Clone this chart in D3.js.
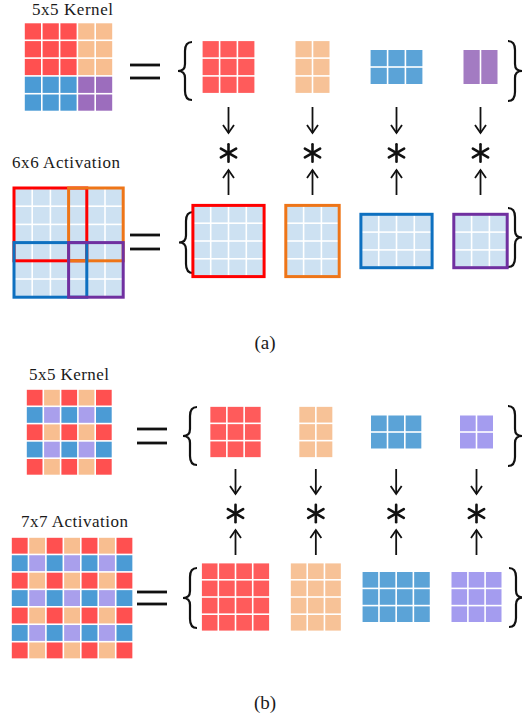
<!DOCTYPE html>
<html>
<head>
<meta charset="utf-8">
<script src="https://cdn.jsdelivr.net/npm/d3@7"></script>
<style>
  body { margin: 0; background: #fff; }
  text { font-family: "Liberation Serif", "Times New Roman", serif; fill: #1a1a1a; }
</style>
</head>
<body>
<div id="chart"></div>
<script>
// colour keys: R red, P peach, B blue, V purple, L lavender
const kernelA = ['RRRPP', 'RRRPP', 'RRRPP', 'BBBVV', 'BBBVV'];
const activationASize = 6;
const pieceKeysA = ['R', 'P', 'B', 'V'];
const kernelShapesA = [[3, 3], [3, 2], [2, 3], [2, 2]];
const kernelRowLinesA = [true, true, true, false];
const windowShapesA = [[4, 4], [4, 3], [3, 4], [3, 3]];
const windowOriginsA = [[0, 0], [0, 3], [3, 0], [3, 3]];

const kernelB = ['RPRPR', 'BLBLB', 'RPRPR', 'BLBLB', 'RPRPR'];
const activationB = ['RPRPRPR', 'BLBLBLB', 'RPRPRPR', 'BLBLBLB', 'RPRPRPR', 'BLBLBLB', 'RPRPRPR'];
const pieceKeysB = ['R', 'P', 'B', 'L'];
const kernelShapesB = [[3, 3], [3, 2], [2, 3], [2, 2]];
const windowShapesB = [[4, 4], [4, 3], [3, 4], [3, 3]];

const titlesA = ['5x5 Kernel', '6x6 Activation'];
const titlesB = ['5x5 Kernel', '7x7 Activation'];
const captions = ['(a)', '(b)'];

const baseColor = { R: '#FF5050', P: '#F8BE90', B: '#4B9BD5', V: '#9C6DBD', L: '#A99FEC' };
const pieceColor = { R: '#FF5B5B', P: '#F7C297', B: '#5BA3D7', V: '#A37BC2', L: '#A49CEF' };
const frameColor = { R: '#FF0000', P: '#EE7518', B: '#0E70C0', V: '#7030A0' };
const cellBlue = '#CDE1F2';
const gap = 1.6;

const svg = d3.select('#chart').append('svg')
  .attr('width', 522)
  .attr('height', 719);

function gridScales(x0, y0, rows, cols, unit) {
  return {
    x: d3.scaleLinear().domain([0, cols]).range([x0, x0 + cols * unit]),
    y: d3.scaleLinear().domain([0, rows]).range([y0, y0 + rows * unit]),
  };
}

function drawPattern(pattern, x0, y0, unit, colors) {
  const rows = pattern.length;
  const cols = pattern[0].length;
  const s = gridScales(x0, y0, rows, cols, unit);
  const cells = [];
  pattern.forEach((row, r) => row.split('').forEach((k, c) => cells.push({ r, c, k })));
  svg.append('g').selectAll('rect')
    .data(cells)
    .enter()
    .append('rect')
    .attr('x', d => s.x(d.c) + gap / 2)
    .attr('y', d => s.y(d.r) + gap / 2)
    .attr('width', unit - gap)
    .attr('height', unit - gap)
    .attr('fill', d => colors[d.k]);
  return s;
}

function drawBlock(cx, cy, rows, cols, unit, fill, rowLines) {
  const s = gridScales(cx - cols * unit / 2, cy - rows * unit / 2, rows, cols, unit);
  const cells = [];
  if (rowLines === false) {
    d3.range(cols).forEach(c => cells.push({ r: 0, c, h: rows }));
  } else {
    d3.range(rows).forEach(r => d3.range(cols).forEach(c => cells.push({ r, c, h: 1 })));
  }
  svg.append('g').selectAll('rect')
    .data(cells)
    .enter()
    .append('rect')
    .attr('x', d => s.x(d.c) + gap / 2)
    .attr('y', d => s.y(d.r) + gap / 2)
    .attr('width', unit - gap)
    .attr('height', d => s.y(d.r + d.h) - s.y(d.r) - gap)
    .attr('fill', fill);
  return s;
}

function drawFrame(s, r0, c0, rows, cols, color) {
  svg.append('rect')
    .attr('x', s.x(c0))
    .attr('y', s.y(r0))
    .attr('width', s.x(c0 + cols) - s.x(c0))
    .attr('height', s.y(r0 + rows) - s.y(r0))
    .attr('fill', 'none')
    .attr('stroke', color)
    .attr('stroke-width', 3);
}

function drawEquals(x0, x1, y0, y1) {
  [y0, y1].forEach((y) => {
    svg.append('line')
      .attr('x1', x0).attr('x2', x1)
      .attr('y1', y).attr('y2', y)
      .attr('stroke', '#111')
      .attr('stroke-width', 2.8);
  });
}

function drawBrace(xEdge, y1, y2, dir) {
  // dir = 1 for "{" (tip to the left), -1 for "}"
  const w = 14 * dir;
  const ym = (y1 + y2) / 2;
  const p = d3.path();
  p.moveTo(xEdge, y1);
  p.quadraticCurveTo(xEdge - w / 2, y1, xEdge - w / 2, y1 + 9);
  p.lineTo(xEdge - w / 2, ym - 7);
  p.quadraticCurveTo(xEdge - w / 2, ym, xEdge - w, ym);
  p.quadraticCurveTo(xEdge - w / 2, ym, xEdge - w / 2, ym + 7);
  p.lineTo(xEdge - w / 2, y2 - 9);
  p.quadraticCurveTo(xEdge - w / 2, y2, xEdge, y2);
  svg.append('path')
    .attr('d', p.toString())
    .attr('fill', 'none')
    .attr('stroke', '#111')
    .attr('stroke-width', 2.2);
}

function drawArrow(x, yFrom, yTo) {
  const dir = yTo > yFrom ? 1 : -1;
  svg.append('line')
    .attr('x1', x).attr('x2', x)
    .attr('y1', yFrom).attr('y2', yTo)
    .attr('stroke', '#111')
    .attr('stroke-width', 1.8);
  svg.append('path')
    .attr('d', `M${x - 5.5},${yTo - 8 * dir} L${x},${yTo} L${x + 5.5},${yTo - 8 * dir}`)
    .attr('fill', 'none')
    .attr('stroke', '#111')
    .attr('stroke-width', 1.8);
}

function drawStar(cx, cy, r) {
  const g = svg.append('g');
  [90, 30, 150].forEach((a) => {
    const t = a * Math.PI / 180;
    g.append('line')
      .attr('x1', cx - r * Math.cos(t)).attr('x2', cx + r * Math.cos(t))
      .attr('y1', cy - r * Math.sin(t)).attr('y2', cy + r * Math.sin(t))
      .attr('stroke', '#111')
      .attr('stroke-width', 2.6)
      .attr('stroke-linecap', 'round');
  });
}

function label(text, x, y, size, width, anchor) {
  const t = svg.append('text')
    .attr('x', x)
    .attr('y', y)
    .attr('font-size', size)
    .attr('text-anchor', anchor || 'start')
    .text(text);
  if (width) t.attr('textLength', width).attr('lengthAdjust', 'spacing');
}

// ---------- (a) ----------
const colA = d3.scalePoint().domain(pieceKeysA).range([228.5, 480.5]);
label(titlesA[0], 32, 15, 17, 81);
drawPattern(kernelA, 24, 22.5, 17.8, baseColor);
drawEquals(130, 160, 65, 78);
drawBrace(192, 42, 100, 1);
drawBrace(508, 41, 101, -1);
pieceKeysA.forEach((k, i) => {
  const [rows, cols] = kernelShapesA[i];
  drawBlock(colA(k), 67, rows, cols, 17.8, pieceColor[k], kernelRowLinesA[i]);
  drawArrow(colA(k), 107, 133);
  drawStar(colA(k), 153, 8.8);
  drawArrow(colA(k), 195, 170);
});

label(titlesA[1], 12, 168, 17, 108);
const actA = d3.range(activationASize).map(() => 'C'.repeat(activationASize));
const sA = drawPattern(actA, 14, 188, 18.2, { C: cellBlue });
pieceKeysA.forEach((k, i) => {
  const [rows, cols] = windowShapesA[i];
  const [r0, c0] = windowOriginsA[i];
  drawFrame(sA, r0, c0, rows, cols, frameColor[k]);
});
drawEquals(130, 160, 235, 249);
drawBrace(193, 212, 273, 1);
drawBrace(508, 208, 267, -1);
pieceKeysA.forEach((k, i) => {
  const [rows, cols] = windowShapesA[i];
  const s = drawBlock(colA(k), 241, rows, cols, 17.8, cellBlue, true);
  drawFrame(s, 0, 0, rows, cols, frameColor[k]);
});
label(captions[0], 265, 349, 19, null, 'middle');

// ---------- (b) ----------
const colB = d3.scalePoint().domain(pieceKeysB).range([235.5, 476.5]);
label(titlesB[0], 29, 380, 17, 80);
drawPattern(kernelB, 26, 389, 17.3, baseColor);
drawEquals(137, 167, 429, 443);
drawBrace(197, 407, 465, 1);
drawBrace(508, 406, 466, -1);
pieceKeysB.forEach((k, i) => {
  const [rows, cols] = kernelShapesB[i];
  drawBlock(colB(k), 432, rows, cols, 17.3, pieceColor[k], true);
  drawArrow(colB(k), 469, 494);
  drawStar(colB(k), 513.5, 8.8);
  drawArrow(colB(k), 555, 530);
});

label(titlesB[1], 21, 527, 17, 107);
drawPattern(activationB, 11, 537, 17.45, baseColor);
drawEquals(137, 167, 592, 604);
drawBrace(197, 568, 628, 1);
drawBrace(509, 568, 627, -1);
pieceKeysB.forEach((k, i) => {
  const [rows, cols] = windowShapesB[i];
  drawBlock(colB(k), 597, rows, cols, 17.2, pieceColor[k], true);
});
label(captions[1], 265, 709, 19, null, 'middle');
</script>
</body>
</html>
